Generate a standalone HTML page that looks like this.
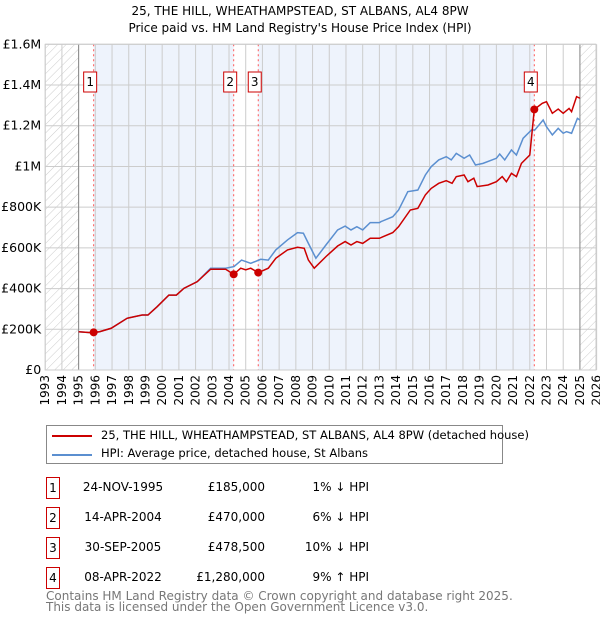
<!DOCTYPE html>
<html><head><meta charset="utf-8"><style>
body{margin:0;background:#fff;font-family:"DejaVu Sans","Liberation Sans",sans-serif;}
#wrap{position:relative;width:600px;height:620px;overflow:hidden}
.t{position:absolute;font-size:12px;color:#000;white-space:nowrap}
.box{position:absolute;width:12px;height:20px;border:1px solid #c00;font-size:12px;text-align:center;line-height:20px}
svg text{font-family:"DejaVu Sans","Liberation Sans",sans-serif}
</style></head><body><div id="wrap">
<svg id="svg" width="600" height="620" style="position:absolute;left:0;top:0"></svg>
<div class="t" style="left:0;width:600px;text-align:center;top:4px;font-size:12px">25, THE HILL, WHEATHAMPSTEAD, ST ALBANS, AL4 8PW</div>
<div class="t" style="left:0;width:600px;text-align:center;top:21px;font-size:12px">Price paid vs. HM Land Registry's House Price Index (HPI)</div>
<div style="position:absolute;left:46px;top:425px;width:455px;height:37px;border:1px solid #888">
 <div style="position:absolute;left:5px;top:9px;width:40px;height:2px;background:#c00"></div>
 <div class="t" style="left:54px;top:2px;font-size:11.5px">25, THE HILL, WHEATHAMPSTEAD, ST ALBANS, AL4 8PW (detached house)</div>
 <div style="position:absolute;left:5px;top:28px;width:40px;height:2px;background:#5b8fd0"></div>
 <div class="t" style="left:54px;top:20px;font-size:11.5px">HPI: Average price, detached house, St Albans</div>
</div>
<div id="tbl"></div>
<div class="t" style="left:46px;top:589px;color:#777">Contains HM Land Registry data © Crown copyright and database right 2025.</div>
<div class="t" style="left:46px;top:600px;color:#777">This data is licensed under the Open Government Licence v3.0.</div>
</div>
<script>
const yTicks=[0,200000,400000,600000,800000,1000000,1200000,1400000,1600000];
const yTickLabels=["£0","£200K","£400K","£600K","£800K","£1M","£1.2M","£1.4M","£1.6M"];
const years=[1993,1994,1995,1996,1997,1998,1999,2000,2001,2002,2003,2004,2005,2006,2007,2008,2009,2010,2011,2012,2013,2014,2015,2016,2017,2018,2019,2020,2021,2022,2023,2024,2025,2026];
const hpiT=[1995.0,1995.8,1996.25,1996.95,1997.9,1998.8,1999.15,1999.7,2000.4,2000.85,2001.3,2002.1,2002.9,2003.8,2004.3,2004.75,2005.3,2005.9,2006.35,2006.8,2007.5,2008.1,2008.45,2008.75,2009.2,2009.8,2010.5,2010.95,2011.3,2011.65,2012.0,2012.45,2013.0,2013.1,2013.8,2014.15,2014.7,2015.3,2015.75,2016.1,2016.55,2017.0,2017.3,2017.6,2018.07,2018.4,2018.75,2019.2,2020.0,2020.2,2020.5,2020.9,2021.2,2021.6,2022.1,2022.3,2022.8,2023.0,2023.35,2023.7,2024.0,2024.2,2024.5,2024.85,2025.0];
const hpiV=[188,183,188,205,254,270,270,311,368,368,401,434,500,500,508,540,524,544,540,590,639,675,672,622,549,614,688,707,688,704,688,724,724,729,753,786,876,884,958,999,1032,1048,1032,1064,1040,1056,1007,1015,1040,1061,1032,1081,1056,1138,1179,1179,1228,1195,1155,1187,1163,1171,1163,1236,1228];
const ppT=[1995.0,1995.8,1996.25,1996.95,1997.9,1998.8,1999.15,1999.7,2000.4,2000.85,2001.3,2002.1,2002.9,2003.8,2004.28,2004.7,2005.0,2005.3,2005.75,2006.35,2006.8,2007.5,2008.1,2008.5,2008.75,2009.1,2009.8,2010.5,2010.95,2011.3,2011.65,2012.0,2012.45,2013.0,2013.8,2014.15,2014.85,2015.3,2015.75,2016.1,2016.55,2017.0,2017.35,2017.6,2018.07,2018.3,2018.65,2018.85,2019.5,2020.0,2020.35,2020.6,2020.9,2021.2,2021.5,2022.0,2022.27,2022.75,2023.0,2023.35,2023.7,2024.0,2024.35,2024.5,2024.8,2025.0];
const ppV=[188,183,188,205,254,270,270,311,368,368,401,434,495,495,470,500,492,500,478,500,549,590,603,598,540,500,557,609,631,614,631,622,647,647,675,704,786,794,860,892,917,930,917,950,958,925,942,901,909,925,950,925,966,950,1015,1056,1280,1310,1318,1261,1282,1261,1285,1269,1343,1335];
const saleLabels=["1","2","3","4"];
const saleT=[1995.9,2004.28,2005.75,2022.27];
const saleV=[185000,470000,478500,1280000];
const saleDates=["24-NOV-1995","14-APR-2004","30-SEP-2005","08-APR-2022"];
const salePrices=["£185,000","£470,000","£478,500","£1,280,000"];
const saleDiff=["1% ↓ HPI","6% ↓ HPI","10% ↓ HPI","9% ↑ HPI"];

const X0=45.2,XW=16.71,Y0=370,YH=325.7;
const sx=t=>X0+(t-1993)*XW, sy=v=>Y0-v/1600000*YH;
const svg=document.getElementById('svg');const NS="http://www.w3.org/2000/svg";
function mk(tag,a,parent){const e=document.createElementNS(NS,tag);for(const k in a)e.setAttribute(k,a[k]);(parent||svg).appendChild(e);return e;}
const L=sx(1993),R=596,T=sy(1600000);
const defs=mk('defs',{});
const pat=mk('pattern',{id:'h',width:6,height:6,patternUnits:'userSpaceOnUse',patternTransform:'rotate(45)'},defs);
mk('line',{x1:0,y1:0,x2:0,y2:6,stroke:'#ccc','stroke-width':1},pat);
let e;
e=mk('rect',{x:L,y:T,width:sx(1995)-L,height:Y0-T,fill:'url(#h)'});

e=mk('rect',{x:sx(2025.0),y:T,width:R-sx(2025.0),height:Y0-T,fill:'url(#h)'});

e=mk('rect',{x:sx(saleT[0]),y:T,width:sx(saleT[1])-sx(saleT[0]),height:Y0-T,fill:'#eef3fc'});

e=mk('rect',{x:sx(saleT[2]),y:T,width:sx(saleT[3])-sx(saleT[2]),height:Y0-T,fill:'#eef3fc'});

years.forEach(y=>{const g=mk('line',{x1:sx(y),x2:sx(y),y1:T,y2:Y0,stroke:'#ccc'});

const tx=mk('text',{x:0,y:0,'font-size':12,'text-anchor':'end',transform:`translate(${sx(y)+4},${Y0+5}) rotate(-90)`});tx.textContent=y;
});
yTicks.forEach((v,i)=>{const g=mk('line',{x1:L,x2:R,y1:sy(v),y2:sy(v),stroke:'#ccc'});

const tx=mk('text',{x:L-4,y:sy(v)+4,'font-size':12.5,'text-anchor':'end'});tx.textContent=yTickLabels[i];
});
e=mk('line',{x1:sx(1995),x2:sx(1995),y1:T,y2:Y0,stroke:'#888'});
e=mk('line',{x1:sx(2025),x2:sx(2025),y1:T,y2:Y0,stroke:'#888'});
saleT.forEach((t,i)=>{const l=mk('line',{x1:sx(t),x2:sx(t),y1:T,y2:Y0,stroke:'#f55','stroke-dasharray':'2,3'});
});
e=mk('polyline',{points:hpiT.map((t,i)=>sx(t)+','+sy(hpiV[i]*1000)).join(' '),fill:'none',stroke:'#5b8fd0','stroke-width':1.5});

e=mk('polyline',{points:ppT.map((t,i)=>sx(t)+','+sy(ppV[i]*1000)).join(' '),fill:'none',stroke:'#c00','stroke-width':1.5});

saleT.forEach((t,i)=>{const c=mk('circle',{cx:sx(t),cy:sy(saleV[i]),r:4,fill:'#c00'});

const r=mk('rect',{x:sx(t)-10,y:72,width:13,height:20,fill:'#fff',stroke:'#c00'});

const tx=mk('text',{x:sx(t)-3.5,y:86,'font-size':12,'text-anchor':'middle'});tx.textContent=saleLabels[i];
});
e=mk('rect',{x:L,y:T,width:R-L,height:Y0-T,fill:'none',stroke:'#ccc'});
const tbl=document.getElementById('tbl');
saleT.forEach((t,i)=>{const top=477+i*30;
let d=document.createElement('div');d.className='box';d.style.left='46px';d.style.top=top+'px';d.textContent=saleLabels[i];
tbl.appendChild(d);
d=document.createElement('div');d.className='t';d.style.left='76px';d.style.width='94px';d.style.textAlign='center';d.style.top=(top+3)+'px';d.textContent=saleDates[i];
tbl.appendChild(d);
d=document.createElement('div');d.className='t';d.style.right=(600-265)+'px';d.style.top=(top+3)+'px';d.textContent=salePrices[i];
tbl.appendChild(d);
d=document.createElement('div');d.className='t';d.style.right=(600-369)+'px';d.style.top=(top+3)+'px';d.textContent=saleDiff[i];
tbl.appendChild(d);});
</script></body></html>
